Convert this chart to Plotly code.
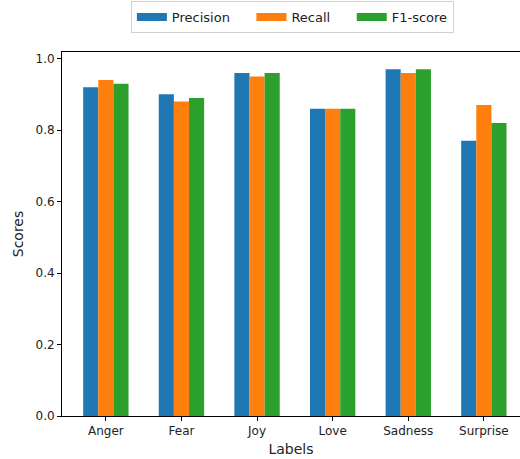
import plotly.graph_objects as go

labels = ["Anger", "Fear", "Joy", "Love", "Sadness", "Surprise"]
precision = [0.92, 0.90, 0.96, 0.86, 0.97, 0.77]
recall = [0.94, 0.88, 0.95, 0.86, 0.96, 0.87]
f1_score = [0.93, 0.89, 0.96, 0.86, 0.97, 0.82]
series_names = ["Precision", "Recall", "F1-score"]
colors = ["#1f77b4", "#ff7f0e", "#2ca02c"]

fig = go.Figure()
for name, vals, c in zip(series_names, [precision, recall, f1_score], colors):
    fig.add_trace(go.Bar(x=labels, y=vals, name=name, marker_color=c,
                         marker_line_width=0, showlegend=False))
pads = ["\u00a0" * 4, "\u00a0" * 4, ""]
for name, c, p in zip(series_names, colors, pads):
    fig.add_trace(go.Scatter(x=[None], y=[None], mode="lines", name=name + p,
                             line=dict(color=c, width=8)))

font = dict(family="DejaVu Sans", size=12, color="#222")
fig.update_layout(
    width=520, height=459,
    margin=dict(l=62, r=0, t=52, b=43),
    paper_bgcolor="white", plot_bgcolor="white",
    barmode="group", bargap=0.4, bargroupgap=0,
    font=font,
    legend=dict(orientation="h", x=0.503, xanchor="center", y=1.14, yanchor="top",
                bordercolor="#d0d0d0", borderwidth=1, font=dict(size=13),
                itemwidth=30),
    xaxis=dict(range=[-0.58, 5.478], showline=True, linecolor="black", linewidth=1,
               mirror=True, ticks="outside", ticklen=4, tickcolor="black",
               showgrid=False, title=dict(text="Labels", standoff=6), tickfont=dict(size=12)),
    yaxis=dict(range=[0, 1.0185], showline=True, linecolor="black", linewidth=1,
               ticks="outside", ticklen=4, tickcolor="black", showgrid=False,
               tickvals=[0, 0.2, 0.4, 0.6, 0.8, 1.0], tickformat=".1f",
               zeroline=False, title=dict(text="Scores", standoff=8), tickfont=dict(size=12)),
)
fig.write_html("out.html", config={"displayModeBar": False},
               post_script="document.body.style.margin='0';")
